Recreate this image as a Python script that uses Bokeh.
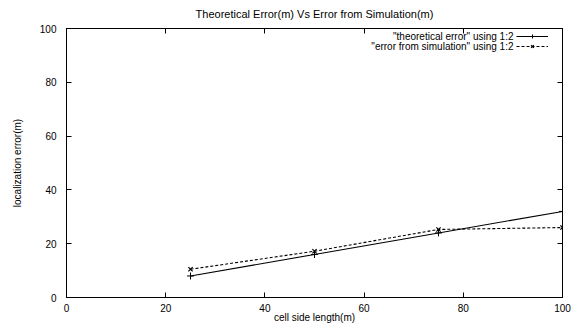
from bokeh.plotting import figure
from bokeh.models import (LinearAxis, SingleIntervalTicker, Range1d, Legend,
                          LegendItem, Label)
from bokeh.embed import file_html
from bokeh.resources import INLINE

# ---- data ----
cell_side = [25, 50, 75, 100]
theoretical_error = [8.0, 16.0, 24.0, 32.0]
simulation_error = [10.5, 17.2, 25.3, 26.0]

title_text = "Theoretical Error(m) Vs Error from Simulation(m)"
x_label = "cell side length(m)"
y_label = "localization error(m)"
legend_labels = ['"theoretical error" using 1:2', '"error from simulation" using 1:2']

FONT = "Liberation Sans"

p = figure(width=585, height=325, output_backend="svg", toolbar_location=None,
           x_range=Range1d(0, 100), y_range=Range1d(0, 100),
           min_border_left=66, min_border_right=23, min_border_top=28,
           min_border_bottom=27, title=title_text)

p.title.align = "center"
p.title.text_font = FONT
p.title.text_font_size = "11px"
p.title.text_font_style = "normal"
p.title.text_color = "black"
p.title.standoff = 10

p.grid.visible = False
p.outline_line_color = "black"
p.outline_line_width = 1
p.background_fill_color = "white"
p.border_fill_color = "white"

def style_axis(ax, labels=True):
    ax.ticker = SingleIntervalTicker(interval=20)
    ax.major_tick_in = 5
    ax.major_tick_out = 0
    ax.minor_tick_line_color = None
    ax.axis_line_color = "black"
    ax.major_tick_line_color = "black"
    ax.major_label_text_font = FONT
    if labels:
        ax.major_label_text_font_size = "10px"
        ax.major_label_text_color = "black"
    else:
        ax.major_label_text_font_size = "1px"
        ax.major_label_text_color = None
    ax.axis_label_text_font = FONT
    ax.axis_label_text_font_size = "10px"
    ax.axis_label_text_font_style = "normal"
    ax.axis_label_text_color = "black"

xa = p.xaxis[0]
ya = p.yaxis[0]
style_axis(xa)
style_axis(ya)
xa.axis_label = x_label
ya.axis_label = y_label
xa.major_label_standoff = 2
xa.axis_label_standoff = -3
ya.major_label_standoff = 6
ya.axis_label_standoff = 14

top = LinearAxis()
style_axis(top, labels=False)
top.major_label_standoff = 0
p.add_layout(top, "above")
right = LinearAxis()
style_axis(right, labels=False)
right.major_label_standoff = 0
p.add_layout(right, "right")

l1 = p.line(cell_side, theoretical_error, line_color="black", line_width=1.1)
s1 = p.scatter(cell_side, theoretical_error, marker="cross", size=7,
               line_color="black", line_width=1)
l2 = p.line(cell_side, simulation_error, line_color="black", line_width=1.1,
            line_dash="3 2")
s2 = p.scatter(cell_side, simulation_error, marker="x", size=6,
               line_color="black", line_width=1.2)

legend = Legend(items=[LegendItem(label=" ", renderers=[l1, s1]),
                       LegendItem(label=" ", renderers=[l2, s2])],
                location=(450, 246), glyph_width=32, glyph_height=10,
                label_height=10, label_width=0, label_standoff=0,
                label_text_font_size="1px", spacing=0, padding=0, margin=0,
                border_line_color=None, background_fill_alpha=0)
p.add_layout(legend, "center")

for i, txt in enumerate(legend_labels):
    p.add_layout(Label(x=447, y=261 - 10 * i, x_units="screen", y_units="screen",
                       text=txt, text_align="right", text_baseline="middle",
                       text_font=FONT, text_font_size="10px", text_color="black"))

open("out.html", "w").write(file_html(p, INLINE))
